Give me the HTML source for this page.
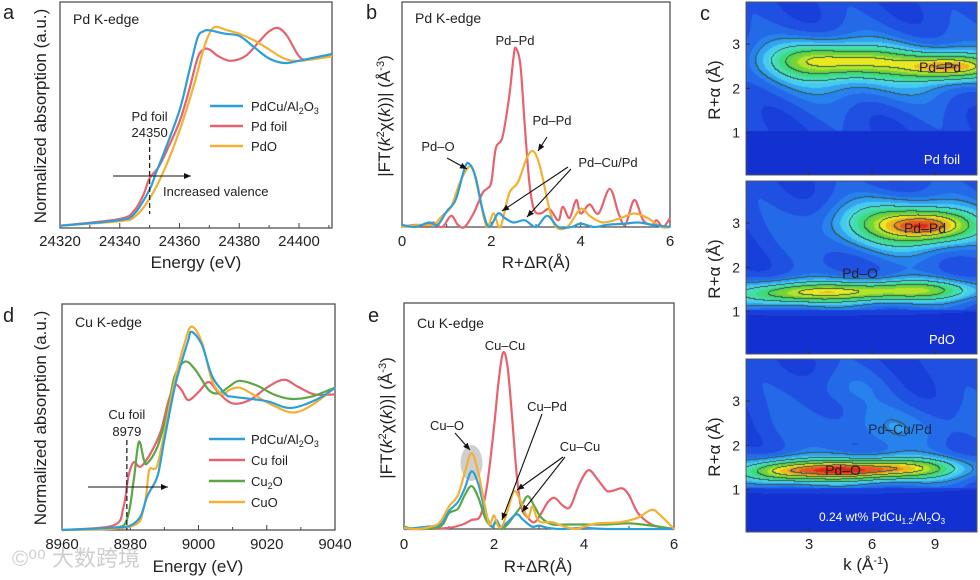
<!DOCTYPE html>
<html><head><meta charset="utf-8">
<style>
html,body{margin:0;padding:0;background:#fff;}
#wrap{position:relative;width:980px;height:580px;overflow:hidden;font-family:"Liberation Sans","Noto Sans CJK SC",sans-serif;}
canvas{position:absolute;}
svg{position:absolute;left:0;top:0;}
text{font-family:"Liberation Sans","Noto Sans CJK SC",sans-serif;fill:#222;}
</style></head>
<body>
<div id="wrap">
<canvas id="c1" width="231" height="173" style="left:746px;top:2px"></canvas>
<canvas id="c2" width="231" height="173" style="left:746px;top:181px"></canvas>
<canvas id="c3" width="231" height="173" style="left:746px;top:359px"></canvas>
<svg id="svg" width="980" height="580" xmlns="http://www.w3.org/2000/svg"></svg>
</div>
<script>
// ---------- Panel a data (Pd K-edge XANES) ----------
const aBlueX=[24320,24340,24345,24350,24352,24355,24360,24363,24366,24368,24370,24375,24380,24385,24390,24395,24400,24411];
const aBlueY=[0.01,0.035,0.065,0.17,0.24,0.34,0.52,0.68,0.84,0.87,0.875,0.86,0.85,0.80,0.75,0.73,0.74,0.77];
const aRedX=[24320,24340,24345,24348,24350,24353,24356,24360,24363,24366,24368,24370,24373,24377,24382,24387,24390,24393,24396,24400,24403,24411];
const aRedY=[0.01,0.04,0.08,0.15,0.22,0.27,0.35,0.47,0.60,0.75,0.79,0.79,0.76,0.74,0.76,0.83,0.87,0.885,0.85,0.76,0.745,0.76];
const aOrX=[24320,24340,24345,24350,24355,24360,24365,24368,24370,24372,24376,24380,24385,24390,24395,24400,24411];
const aOrY=[0.01,0.03,0.05,0.13,0.26,0.43,0.64,0.79,0.86,0.89,0.875,0.86,0.83,0.79,0.75,0.74,0.76];
const aTicks=[24320,24340,24360,24380,24400];
// ---------- Panel b data (Pd FT-EXAFS) ----------
const bRedX=[0,0.3,0.5,0.7,0.9,1.1,1.25,1.4,1.6,1.8,1.9,2.0,2.1,2.25,2.4,2.5,2.55,2.65,2.75,2.85,2.95,3.1,3.3,3.5,3.6,3.75,3.9,4.0,4.2,4.4,4.65,4.85,5.0,5.2,5.4,5.6,5.7,5.85,6.0];
const bRedY=[0,0.01,0.005,0.02,0,0.05,0.01,0,0.06,0.15,0.17,0.2,0.35,0.4,0.58,0.76,0.795,0.72,0.45,0.2,0.08,0.06,0.08,0.03,0.09,0.04,0.12,0.06,0.10,0.06,0.17,0.06,0.01,0.12,0.03,0.01,0.03,0,0.04];
const bBlueX=[0,0.3,0.6,0.8,1.0,1.2,1.4,1.5,1.65,1.8,1.95,2.15,2.3,2.5,2.75,3.0,3.25,3.5,3.8,4.0,4.3,4.6,5.0,5.3,5.6,6.0];
const bBlueY=[0.01,0,0.02,0.01,0.07,0.12,0.26,0.282,0.22,0.08,0,0.06,0.04,0.02,0.03,0,0.05,0,0,0.015,0,0.01,0.015,0.02,0.01,0];
const bOrX=[0,0.4,0.7,0.9,1.1,1.3,1.5,1.6,1.75,1.9,2.05,2.2,2.4,2.6,2.8,2.95,3.1,3.3,3.45,3.7,4.0,4.2,4.5,4.9,5.2,5.5,5.8,6.0];
const bOrY=[0,0.01,0.01,0.05,0.09,0.2,0.268,0.25,0.12,0,0.06,0,0.15,0.2,0.31,0.335,0.26,0.08,0,0,0.08,0.05,0.02,0.04,0.06,0.04,0,0];
const bTicks=[0,2,4,6];
// ---------- Panel d data (Cu K-edge XANES) ----------
const dBlueX=[8960,8975,8980,8983,8985,8988,8990,8993,8995,8997,8998,9001,9004,9008,9010,9020,9027,9035,9040];
const dBlueY=[0,0.01,0.02,0.06,0.15,0.24,0.40,0.63,0.74,0.84,0.877,0.82,0.68,0.6,0.59,0.57,0.54,0.58,0.63];
const dRedX=[8960,8975,8978,8979.5,8981,8983,8986,8989,8991,8993,8995,8997,9000,9003,9006,9010,9015,9020,9025,9029,9034,9040];
const dRedY=[0,0.02,0.10,0.24,0.30,0.28,0.34,0.44,0.56,0.64,0.62,0.575,0.61,0.655,0.605,0.56,0.575,0.63,0.665,0.635,0.60,0.60];
const dGreenX=[8960,8975,8979,8981,8982.5,8984,8985,8988,8991,8993,8996,8999,9003,9006,9009,9012,9017,9022,9027,9033,9040];
const dGreenY=[0,0.01,0.045,0.22,0.39,0.31,0.295,0.37,0.53,0.68,0.745,0.71,0.62,0.605,0.635,0.66,0.64,0.6,0.58,0.59,0.63];
const dOrX=[8960,8980,8984,8985.5,8987,8988,8990,8993,8996,8998,9001,9004,9007,9009,9012,9016,9022,9028,9034,9040];
const dOrY=[0,0.015,0.10,0.26,0.27,0.29,0.43,0.66,0.83,0.90,0.83,0.66,0.6,0.62,0.63,0.6,0.55,0.52,0.56,0.63];
const dTicks=[8960,8980,9000,9020,9040];
// ---------- Panel e data (Cu FT-EXAFS) ----------
const eRedX=[0,0.5,1.0,1.3,1.5,1.7,1.85,2.0,2.1,2.2,2.3,2.4,2.5,2.6,2.75,2.9,3.05,3.2,3.35,3.55,3.7,3.9,4.1,4.3,4.5,4.65,4.85,5.0,5.2,5.5,5.8,6.0];
const eRedY=[0,0,0.005,0.02,0.04,0.06,0.2,0.45,0.65,0.78,0.72,0.5,0.25,0.1,0.05,0.03,0.07,0.12,0.137,0.1,0.1,0.2,0.26,0.22,0.17,0.17,0.18,0.15,0.07,0.02,0.005,0];
const eOrX=[0,0.3,0.6,0.8,1.0,1.2,1.35,1.5,1.65,1.8,1.9,2.0,2.1,2.2,2.3,2.45,2.6,2.75,2.85,2.95,3.05,3.3,3.5,3.8,4.0,4.3,4.8,5.2,5.5,5.7,6.0];
const eOrY=[0.005,0,0.01,0.03,0.10,0.15,0.25,0.336,0.25,0.1,0.02,0.06,0.01,0.02,0.08,0.167,0.12,0.05,0.10,0.05,0.03,0.03,0.015,0,0.01,0.025,0.03,0.05,0.085,0.06,0];
const eBlueX=[0,0.5,0.8,1.0,1.2,1.35,1.5,1.65,1.8,1.95,2.05,2.15,2.3,2.5,2.65,2.85,3.0,3.2,3.5,4.0,4.5,6.0];
const eBlueY=[0,0.01,0.02,0.08,0.12,0.18,0.255,0.2,0.08,0.01,0.04,0.01,0.03,0.065,0.04,0.01,0.015,0.005,0,0.005,0,0];
const eGreenX=[0,0.3,0.8,1.0,1.2,1.35,1.5,1.65,1.8,1.95,2.05,2.15,2.3,2.45,2.6,2.75,2.9,3.05,3.3,3.6,4.0,4.5,5.0,5.5,6.0];
const eGreenY=[0.01,0,0.01,0.07,0.09,0.15,0.19,0.14,0.05,0.01,0.03,0,0.02,0.06,0.1,0.145,0.1,0.05,0.02,0.02,0.02,0.02,0.025,0.015,0];
const eTicks=[0,2,4,6];
// ---------- Panel c data (wavelet blobs) ----------
const c1K=[9.8,5.5,3.0,6.0], c1R=[2.5,2.62,2.65,2.45], c1A=[0.6,0.32,0.3,0.25], c1SK=[1.6,1.8,1.5,4.0], c1SR=[0.2,0.22,0.3,0.5];
const c2K=[8.8,6.5,8.0,4.5,8.5,1.5,5.0], c2R=[2.95,3.0,2.9,1.45,1.5,1.4,1.45], c2A=[0.55,0.25,0.2,0.35,0.3,0.25,0.2], c2SK=[1.5,1.8,3.0,2.2,2.0,1.5,5.0], c2SR=[0.25,0.35,0.5,0.15,0.16,0.18,0.25];
const c3K=[4.5,7.8,1.5,5.0,7.0,4.5], c3R=[1.45,1.5,1.4,1.45,2.4,3.3], c3A=[0.58,0.3,0.3,0.2,0.12,0.08], c3SK=[2.2,1.8,1.2,5.0,3.5,1.5], c3SR=[0.16,0.16,0.18,0.25,0.4,0.3];
const cKTicks=[3,6,9], cRTicks=[1,2,3];

const NS="http://www.w3.org/2000/svg";
const svg=document.getElementById('svg');
function mk(tag,attrs,parent){const e=document.createElementNS(NS,tag);for(const k in attrs)e.setAttribute(k,attrs[k]);(parent||svg).appendChild(e);return e;}
function txt(x,y,s,size,anchor,name,color,parent){const t=mk('text',{x:x,y:y,'font-size':size,'text-anchor':anchor||'start'},parent);if(color)t.setAttribute('style','fill:'+color);t.textContent=s;


return t;}
function smooth(pts){let d='M'+pts[0][0].toFixed(1)+','+pts[0][1].toFixed(1);
for(let i=0;i<pts.length-1;i++){const p0=pts[i-1]||pts[i],p1=pts[i],p2=pts[i+1],p3=pts[i+2]||p2;
const c1=[p1[0]+(p2[0]-p0[0])/6,p1[1]+(p2[1]-p0[1])/6],c2=[p2[0]-(p3[0]-p1[0])/6,p2[1]-(p3[1]-p1[1])/6];
d+='C'+c1[0].toFixed(1)+','+c1[1].toFixed(1)+' '+c2[0].toFixed(1)+','+c2[1].toFixed(1)+' '+p2[0].toFixed(1)+','+p2[1].toFixed(1);}return d;}
function series(xs,ys,sx,sy,color,name){const p=mk('path',{d:smooth(xs.map((x,i)=>[sx(x),sy(ys[i])])),fill:'none',stroke:color,'stroke-width':2.2,'stroke-linejoin':'round'});


return p;}
function frame(x0,y0,x1,y1,name){const r=mk('rect',{x:x0,y:y0,width:x1-x0,height:y1-y0,fill:'none',stroke:'#444','stroke-width':1.2});

}
function xticks(ticks,sx,y1,labY,minor,size){ticks.forEach(t=>{mk('line',{x1:sx(t),x2:sx(t),y1:y1,y2:y1-5,stroke:'#444','stroke-width':1});
txt(sx(t),labY,String(t),size||15,'middle','x-tick-label');});
(minor||[]).forEach(t=>mk('line',{x1:sx(t),x2:sx(t),y1:y1,y2:y1-3,stroke:'#444','stroke-width':1}));}
function arrow(x1,y1,x2,y2,name){const l=mk('line',{x1:x1,y1:y1,x2:x2,y2:y2,stroke:'#111','stroke-width':1.1});


const a=Math.atan2(y2-y1,x2-x1),L=7,w=3;
mk('polygon',{points:`${x2},${y2} ${x2-L*Math.cos(a)+w*Math.sin(a)},${y2-L*Math.sin(a)-w*Math.cos(a)} ${x2-L*Math.cos(a)-w*Math.sin(a)},${y2-L*Math.sin(a)+w*Math.cos(a)}`,fill:'#111'});}
function rotLabel(x,y,name,build){const t=mk('text',{x:0,y:0,'font-size':17,'text-anchor':'middle',transform:`translate(${x},${y}) rotate(-90)`});


build(t);return t;}
function ts(parent,s,attrs){const e=mk('tspan',attrs||{},parent);e.textContent=s;return e;}
const BLUE='#2c9fd9',RED='#e8626e',OR='#f2b134',GREEN='#5aa845';

// ===== Panel a =====
(function(){const x0=60,x1=332,y0=2,y1=228;
const sx=v=>x0+(v-24320)*(299-60)/80, sy=v=>y1-v*(y1-y0);
frame(x0,y0,x1,y1,'panel-a-frame');
xticks(aTicks,sx,y1,246,[24330,24350,24370,24390,24410]);
series(aRedX,aRedY,sx,sy,RED,'pd-foil-line');
series(aOrX,aOrY,sx,sy,OR,'pdo-line');
series(aBlueX,aBlueY,sx,sy,BLUE,'pdcu-line');
const dl=mk('line',{x1:sx(24350),x2:sx(24350),y1:139,y2:214,stroke:'#222','stroke-width':1.3,'stroke-dasharray':'5,3'});


txt(sx(24350),121,'Pd foil',13,'middle','edge-label');
txt(sx(24350),137,'24350',13,'middle','edge-value');
arrow(113,176,191,176,'valence-arrow');
txt(163,196,'Increased valence',13,'start','valence-label');
txt(73,24,'Pd K-edge',14,'start','panel-a-title');
txt(3,19,'a',20,'start','panel-a-letter');
txt(196,268,'Energy (eV)',17,'middle','x-axis-title-a');
rotLabel(46,116,'y-axis-title-a',t=>ts(t,'Normalized absorption (a.u.)'));
const leg=[['PdCu/Al',BLUE],['Pd foil',RED],['PdO',OR]];
leg.forEach((l,i)=>{const y=106+i*20;const ln=mk('line',{x1:210,x2:243,y1:y,y2:y,stroke:l[1],'stroke-width':2.5});


const t=txt(251,y+5,'',13,'start','legend-entry-a');
if(i==0){ts(t,'PdCu/Al');ts(t,'2',{'font-size':9,dy:3});ts(t,'O',{dy:-3});ts(t,'3',{'font-size':9,dy:3});}else t.textContent=l[0];});
})();

function ftLabel(t){ts(t,'|FT(');ts(t,'k',{'font-style':'italic'});ts(t,'2',{'font-size':11,dy:-6});ts(t,'χ(',{dy:6});ts(t,'k',{'font-style':'italic'});ts(t,'))| (Å');ts(t,'-3',{'font-size':11,dy:-6});ts(t,')',{dy:6});}

// ===== Panel b =====
(function(){const x0=402,x1=670,y0=2,y1=227;
const sx=v=>x0+v*(x1-x0)/6, sy=v=>y1-v*(y1-y0);
frame(x0,y0,x1,y1,'panel-b-frame');
xticks(bTicks,sx,y1,246,[1,3,5]);
series(bRedX,bRedY,sx,sy,RED,'pd-foil-ft-line');
series(bOrX,bOrY,sx,sy,OR,'pdo-ft-line');
series(bBlueX,bBlueY,sx,sy,BLUE,'pdcu-ft-line');
txt(415,23,'Pd K-edge',14,'start','panel-b-title');
txt(366,19,'b',20,'start','panel-b-letter');
txt(515,45,'Pd–Pd',13,'middle','peak-label-pd-pd');
txt(552,125,'Pd–Pd',13,'middle','peak-label-pd-pd-2');
txt(438,151,'Pd–O',13,'middle','peak-label-pd-o');
txt(608,167,'Pd–Cu/Pd',13,'middle','peak-label-pd-cu');
arrow(447,158,467,169,'arrow-pd-o');
arrow(547,137,538,151,'arrow-pd-pd');
arrow(568,167,502,211,'arrow-pd-cu-1');
arrow(571,169,527,217,'arrow-pd-cu-2');
txt(536,268,'R+ΔR(Å)',17,'middle','x-axis-title-b');
rotLabel(390,116,'y-axis-title-b',ftLabel);
})();

// ===== Panel d =====
(function(){const x0=62,x1=335,y0=304,y1=530;
const sx=v=>x0+(v-8960)*(x1-x0)/80, sy=v=>y1-v*(y1-y0);
frame(x0,y0,x1,y1,'panel-d-frame');
xticks(dTicks,sx,y1,549,[8970,8990,9010,9030]);
series(dRedX,dRedY,sx,sy,RED,'cu-foil-line');
series(dGreenX,dGreenY,sx,sy,GREEN,'cu2o-line');
series(dOrX,dOrY,sx,sy,OR,'cuo-line');
series(dBlueX,dBlueY,sx,sy,BLUE,'pdcu-cu-line');
const dl=mk('line',{x1:sx(8979),x2:sx(8979),y1:440,y2:530,stroke:'#222','stroke-width':1.3,'stroke-dasharray':'5,3'});


txt(sx(8979),419,'Cu foil',13,'middle','edge-label');
txt(sx(8979),436,'8979',13,'middle','edge-value');
arrow(88,487,168,487,'valence-arrow-cu');
txt(75,327,'Cu K-edge',14,'start','panel-d-title');
txt(3,322,'d',20,'start','panel-d-letter');
txt(198,572,'Energy (eV)',17,'middle','x-axis-title-d');
rotLabel(46,418,'y-axis-title-d',t=>ts(t,'Normalized absorption (a.u.)'));
const leg=[['PdCu',BLUE],['Cu foil',RED],['Cu2O',GREEN],['CuO',OR]];
leg.forEach((l,i)=>{const y=439+i*21;const ln=mk('line',{x1:209,x2:245,y1:y,y2:y,stroke:l[1],'stroke-width':2.5});


const t=txt(251,y+5,'',13,'start','legend-entry-d');
if(i==0){ts(t,'PdCu/Al');ts(t,'2',{'font-size':9,dy:3});ts(t,'O',{dy:-3});ts(t,'3',{'font-size':9,dy:3});}
else if(i==2){ts(t,'Cu');ts(t,'2',{'font-size':9,dy:3});ts(t,'O',{dy:-3});}else t.textContent=l[0];});
txt(12,566,'©⁰⁰ 大数跨境',22,'start','watermark','rgba(190,190,190,0.75)');
})();

// ===== Panel e =====
(function(){const x0=404,x1=674,y0=303,y1=529;
const sx=v=>x0+v*(x1-x0)/6, sy=v=>y1-v*(y1-y0);
frame(x0,y0,x1,y1,'panel-e-frame');
xticks(eTicks,sx,y1,549,[1,3,5]);
const g=mk('ellipse',{cx:sx(1.5),cy:463,rx:11,ry:18,fill:'#cfcfcf'});


series(eRedX,eRedY,sx,sy,RED,'cu-foil-ft-line');
series(eGreenX,eGreenY,sx,sy,GREEN,'cu2o-ft-line');
series(eBlueX,eBlueY,sx,sy,BLUE,'pdcu-ft-line-cu');
series(eOrX,eOrY,sx,sy,OR,'cuo-ft-line');
txt(417,328,'Cu K-edge',14,'start','panel-e-title');
txt(368,322,'e',20,'start','panel-e-letter');
txt(505,350,'Cu–Cu',13,'middle','peak-label-cu-cu');
txt(547,411,'Cu–Pd',13,'middle','peak-label-cu-pd');
txt(447,430,'Cu–O',13,'middle','peak-label-cu-o');
txt(580,451,'Cu–Cu',13,'middle','peak-label-cu-cu-2');
arrow(455,433,470,450,'arrow-cu-o');
arrow(542,414,502,520,'arrow-cu-pd');
arrow(563,457,517,490,'arrow-cu-cu-1');
arrow(565,457,522,512,'arrow-cu-cu-2');
txt(538,572,'R+ΔR(Å)',17,'middle','x-axis-title-e');
rotLabel(392,418,'y-axis-title-e',ftLabel);
})();

// ===== Panel c (wavelet heatmaps) =====
const stops=[[0,[12,36,200]],[0.15,[30,72,224]],[0.3,[40,140,240]],[0.42,[80,224,240]],[0.55,[60,220,130]],[0.65,[100,208,60]],[0.77,[232,240,32]],[0.88,[240,144,32]],[1,[224,40,24]]];
function cmap(v){v=Math.max(0,Math.min(1,v));for(let i=0;i<stops.length-1;i++){const a=stops[i],b=stops[i+1];if(v<=b[0]){const f=(v-a[0])/(b[0]-a[0]);return a[1].map((c,j)=>Math.round(c+(b[1][j]-c)*f));}}return stops[stops.length-1][1];}
const kx=k=>k*231/11;
function heat(id,K,R,A,SK,SR,top){const cv=document.getElementById(id),ctx=cv.getContext('2d'),W=cv.width,H=cv.height;
const rAt=y=>(H+2-y)/44.3;
const F=[];for(let y=0;y<H;y++){F.push([]);for(let x=0;x<W;x++){const k=x*11/W,r=rAt(y);
let v=r>1.05?0.15+0.04*Math.sin(k*1.3+r*2):0.06;
for(let i=0;i<K.length;i++){v+=A[i]*Math.exp(-((k-K[i])**2)/(2*SK[i]**2)-((r-R[i])**2)/(2*SR[i]**2));}
F[y].push(Math.min(1,v));}}
const img=ctx.createImageData(W,H);const lv=[0.3,0.45,0.6,0.75,0.88];
for(let y=0;y<H;y++)for(let x=0;x<W;x++){const v=F[y][x];let c=cmap(Math.round(v*18)/18);
const vr=x<W-1?F[y][x+1]:v,vd=y<H-1?F[y+1][x]:v;
if(lv.some(l=>(v-l)*(vr-l)<0||(v-l)*(vd-l)<0))c=[50,90,80];
const o=(y*W+x)*4;img.data[o]=c[0];img.data[o+1]=c[1];img.data[o+2]=c[2];img.data[o+3]=255;}
ctx.putImageData(img,0,0);
const fr=mk('rect',{x:746,y:top,width:231,height:173,fill:'none',stroke:'#555','stroke-width':1});


cRTicks.forEach(r=>{const y=top+H+2-r*44.3;txt(740,y+5,String(r),14,'end','r-tick-label');mk('line',{x1:746,x2:750,y1:y,y2:y,stroke:'#333'});});
cKTicks.forEach(k=>mk('line',{x1:746+kx(k),x2:746+kx(k),y1:top+H,y2:top+H-4,stroke:'#333'}));
rotLabel(720,top+88,'y-axis-title-c',t=>ts(t,'R+α (Å)'));}
heat('c1',c1K,c1R,c1A,c1SK,c1SR,2);
heat('c2',c2K,c2R,c2A,c2SK,c2SR,181);
heat('c3',c3K,c3R,c3A,c3SK,c3SR,359);
cKTicks.forEach(k=>txt(746+kx(k),549,String(k),15,'middle','k-tick-label'));
(function(){const t=txt(866,570,'',17,'middle','x-axis-title-c');ts(t,'k (Å');ts(t,'-1',{'font-size':11,dy:-6});ts(t,')',{dy:6});})();
txt(700,20,'c',20,'start','panel-c-letter');
txt(940,72,'Pd–Pd',14,'middle','map-label-pd-pd','#222');
txt(942,164,'Pd foil',13,'middle','map-sample-pd-foil','#fff');
txt(925,233,'Pd–Pd',14,'middle','map-label-pd-pd-2','#222');
txt(860,278,'Pd–O',14,'middle','map-label-pd-o','#222');
txt(942,344,'PdO',13,'middle','map-sample-pdo','#fff');
txt(900,434,'Pd–Cu/Pd',14,'middle','map-label-pd-cu','#1a2a50');
txt(843,475,'Pd–O',14,'middle','map-label-pd-o-2','#222');
(function(){const t=txt(882,521,'',12,'middle','map-sample-pdcu','#fff');ts(t,'0.24 wt% PdCu');ts(t,'1.2',{'font-size':8,dy:3});ts(t,'/Al',{dy:-3});ts(t,'2',{'font-size':8,dy:3});ts(t,'O',{dy:-3});ts(t,'3',{'font-size':8,dy:3});})();
</script>
</body></html>
